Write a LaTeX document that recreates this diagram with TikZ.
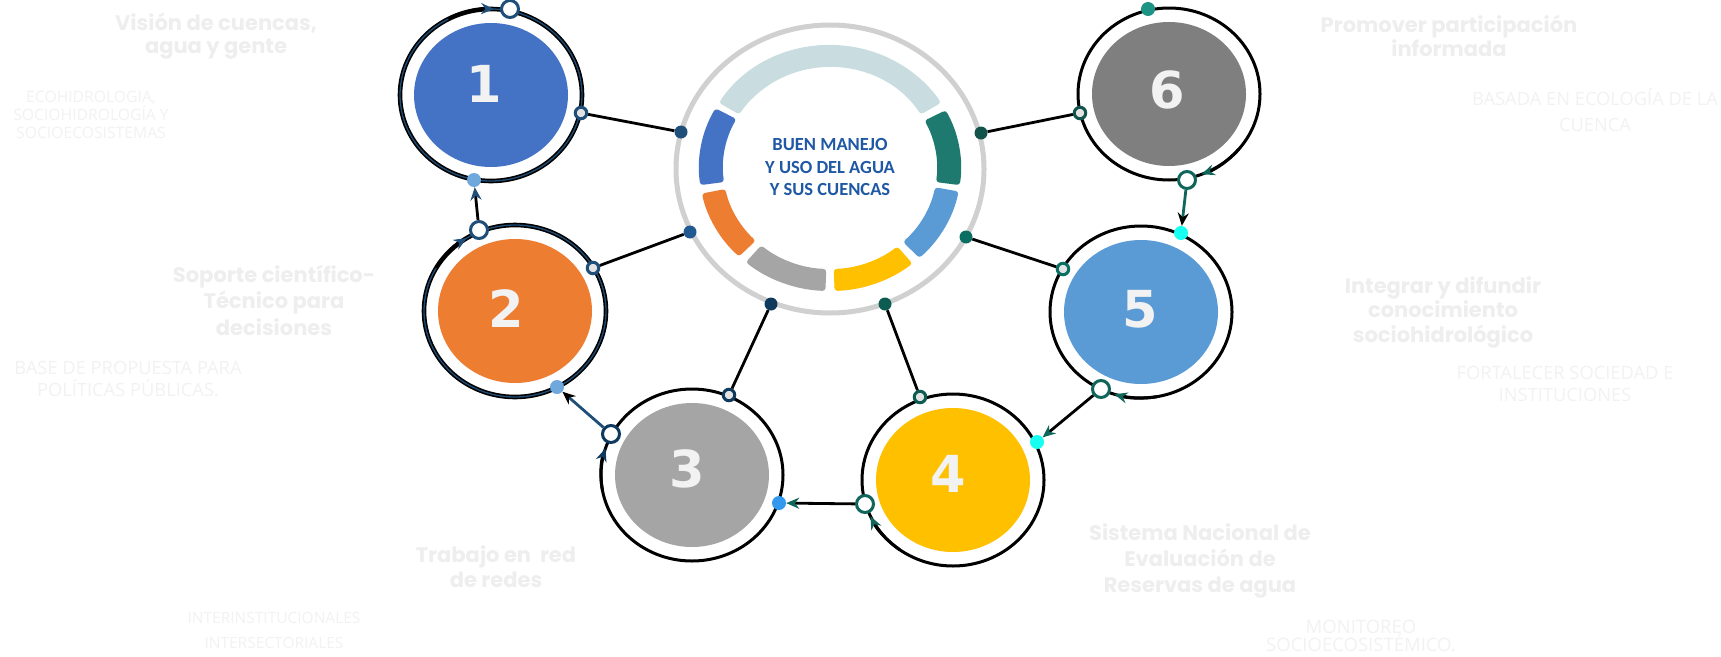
\documentclass[tikz,border=0pt]{standalone}
\usepackage{fontspec}
\usetikzlibrary{shapes.geometric,arrows.meta,calc}
\newfontfamily\popfont{Poppins}
\newfontfamily\osfont{Open Sans}
\newfontfamily\calfont{Carlito}
\newfontfamily\numfont{DejaVu Sans}
\definecolor{cone}{HTML}{4472C4}
\definecolor{ctwo}{HTML}{ED7D31}
\definecolor{cthree}{HTML}{A5A5A5}
\definecolor{cfour}{HTML}{FFC000}
\definecolor{cfive}{HTML}{5B9BD5}
\definecolor{csix}{HTML}{7F7F7F}
\definecolor{topseg}{HTML}{C9DDE1}
\definecolor{tealseg}{HTML}{1E7A6E}
\definecolor{ringgray}{HTML}{D0D0D0}
\definecolor{dkblue}{HTML}{1F4E79}
\definecolor{hubtwo}{HTML}{215A91}
\definecolor{navy}{HTML}{0F3A5E}
\definecolor{hubfour}{HTML}{0C5C52}
\definecolor{hubfive}{HTML}{0B6E63}
\definecolor{dkteal}{HTML}{12544B}
\definecolor{teal}{HTML}{11665C}
\definecolor{portfill}{HTML}{E3E3E3}
\definecolor{cyandot}{HTML}{17FFF0}
\definecolor{bluedot}{HTML}{3399EE}
\definecolor{lbdot}{HTML}{6FA8DC}
\definecolor{topdot}{HTML}{1C9384}
\definecolor{numw}{HTML}{F2F2F2}
\definecolor{headc}{HTML}{EEEEEE}
\definecolor{subc}{HTML}{F2F2F2}
\definecolor{midtext}{HTML}{1F58A5}
\begin{document}
\begin{tikzpicture}[x=1pt,y=-1pt,
  ringline/.style={line width=3pt, draw=black},
  core/.style={ellipse, inner sep=0pt, minimum width=154pt, minimum height=144pt},
  numlbl/.style={font=\numfont\bfseries\fontsize{51}{51}\selectfont, text=numw, inner sep=0pt},
  hub/.style={circle, fill=#1, minimum size=13pt, inner sep=0pt},
  port/.style={circle, fill=portfill, draw=#1, line width=3pt, minimum size=11.5pt, inner sep=0pt},
  opendot/.style={circle, fill=white, draw=#1, line width=3pt, minimum size=17pt, inner sep=0pt},
  sdot/.style={circle, fill=#1, minimum size=14pt, inner sep=0pt},
  link/.style={line width=2.8pt, draw=black},
  tipc/.style={-{Stealth[length=13pt,width=11pt,color=#1]}},
  head/.style={font=\popfont\bfseries\fontsize{21}{25.5}\selectfont, text=headc, align=center, inner sep=0pt},
  sub/.style={font=\osfont\fontsize{18.3}{22}\selectfont, text=subc, align=center, inner sep=0pt}
]
\useasboundingbox (0,0) rectangle (1721,656);
\fill[white] (0,0) rectangle (1721,656);

% centres
\coordinate (C1) at (491,95);
\coordinate (C2) at (515,311);
\coordinate (C3) at (692,475);
\coordinate (C4) at (953,480);
\coordinate (C5) at (1141,312);
\coordinate (C6) at (1169,94);
\coordinate (Z) at (830,168);

% rings
\draw[line width=4.6pt, black] (C1) ellipse[x radius=91, y radius=86];
\draw[line width=1.3pt, dkblue] (C1) ellipse[x radius=91, y radius=86];
\draw[line width=4.6pt, black] (C2) ellipse[x radius=91, y radius=86];
\draw[line width=1.3pt, dkblue] (C2) ellipse[x radius=91, y radius=86];
\draw[ringline] (C3) ellipse[x radius=91, y radius=86];
\draw[ringline] (C4) ellipse[x radius=91, y radius=86];
\draw[ringline] (C5) ellipse[x radius=91, y radius=86];
\draw[ringline] (C6) ellipse[x radius=91, y radius=86];

% cores
\node[core, fill=cone] (N1) at (C1) {};
\node[core, fill=ctwo] (N2) at (C2) {};
\node[core, fill=cthree] (N3) at (C3) {};
\node[core, fill=cfour] (N4) at (C4) {};
\node[core, fill=cfive] (N5) at (C5) {};
\node[core, fill=csix] (N6) at (C6) {};
\node[numlbl] (L1) at (484,84) {1};
\node[numlbl] (L2) at (506,309) {2};
\node[numlbl] (L3) at (687,469) {3};
\node[numlbl] (L4) at (948,474) {4};
\node[numlbl] (L5) at (1140,309) {5};
\node[numlbl] (L6) at (1167,90) {6};

% central hub
\draw[line width=5pt, ringgray] (830,169) ellipse[x radius=154, y radius=144];
\foreach \a/\b/\c in {-148/-32/topseg, -28/8/tealseg, 11/47/cfive, 51/88/cfour, 92/130/cthree, 134/168/ctwo, 172/209/cone}{
  \fill[\c, rounded corners=3pt] ($(Z)+(\a:131 and 123)$) arc[start angle=\a, end angle=\b, x radius=131, y radius=123]
     -- ($(Z)+(\b:107 and 101)$) arc[start angle=\b, end angle=\a, x radius=107, y radius=101] -- cycle;
}
\node[font=\calfont\bfseries\fontsize{18.5}{22.7}\selectfont, text=midtext, align=center] (mid) at (830,167)
  {BUEN MANEJO\\Y USO DEL AGUA\\Y SUS CUENCAS};

% hub dots
\node[hub=dkblue] (h1) at (681,132) {};
\node[hub=hubtwo] (h2) at (690,232) {};
\node[hub=navy] (h3) at (771,304) {};
\node[hub=hubfour] (h4) at (885,304) {};
\node[hub=hubfive] (h5) at (966,237) {};
\node[hub=dkteal] (h6) at (981,133) {};

% ports
\node[port=dkblue] (d1) at (581,113) {};
\node[port=dkblue] (d2) at (593,268) {};
\node[port=navy] (d3) at (729,395) {};
\node[port=hubfour] (d4) at (920,397) {};
\node[port=hubfive] (d5) at (1063,269) {};
\node[port=dkteal] (d6) at (1080,113) {};

\draw[link] (h1) -- (d1);
\draw[link] (h2) -- (d2);
\draw[link] (h3) -- (d3);
\draw[link] (h4) -- (d4);
\draw[link] (h5) -- (d5);
\draw[link] (h6) -- (d6);

% cycle dots
\node[opendot=dkblue] (o1) at (510,9) {};
\node[opendot=dkblue] (o2) at (479,230) {};
\node[opendot=navy] (o3) at (611,434) {};
\node[opendot=teal] (o4) at (865,504) {};
\node[opendot=teal] (o5) at (1101,389) {};
\node[opendot=teal] (o6) at (1187,180) {};
\node[sdot=lbdot] (e1) at (474,180) {};
\node[sdot=lbdot] (e2) at (557,387) {};
\node[sdot=bluedot] (e3) at (779,503) {};
\node[sdot=cyandot] (e4) at (1037,442) {};
\node[sdot=cyandot] (e5) at (1181,233) {};
\node[sdot=topdot] (e6) at (1148,9) {};

% ring arrows
\draw[line width=3pt, tipc=dkblue] ($(C1)+(-118:91 and 86)$) arc[start angle=-118, end angle=-88, x radius=91, y radius=86];
\draw[line width=3pt, tipc=dkblue] ($(C2)+(-150:91 and 86)$) arc[start angle=-150, end angle=-122, x radius=91, y radius=86];
\draw[line width=3pt, tipc=navy] ($(C3)+(170:91 and 86)$) arc[start angle=170, end angle=198, x radius=91, y radius=86];
\draw[line width=3pt, tipc=teal] ($(C4)+(126:91 and 86)$) arc[start angle=126, end angle=155, x radius=91, y radius=86];
\draw[line width=3pt, tipc=teal] ($(C5)+(80:91 and 86)$) arc[start angle=80, end angle=107, x radius=91, y radius=86];
\draw[line width=3pt, tipc=teal] ($(C6)+(40:91 and 86)$) arc[start angle=40, end angle=69, x radius=91, y radius=86];

% connectors between circles
\draw[line width=2.8pt, teal, tipc=black] (o6) -- (e5);
\draw[link, tipc=teal] (o5) -- (e4);
\draw[link, tipc=teal] (o4) -- (e3);
\draw[line width=2.8pt, dkblue, tipc=black] (o3) -- (e2);
\draw[link, tipc=dkblue] (o2) -- (e1);

% texts
\node[head, font=\popfont\bfseries\fontsize{21}{23.5}\selectfont] (t1) at (216,36) {Visión de cuencas,\\agua y gente};
\node[sub, font=\osfont\fontsize{15.7}{18}\selectfont] (s1) at (91,115) {ECOHIDROLOGIA,\\SOCIOHIDROLOGÍA Y\\SOCIOECOSISTEMAS};
\node[head, font=\popfont\bfseries\fontsize{21}{26.5}\selectfont] (t2) at (274,300) {Soporte científico-\\Técnico para\\decisiones};
\node[sub] (s2) at (128,379) {BASE DE PROPUESTA PARA\\POLÍTICAS PÚBLICAS.};
\node[head, font=\popfont\bfseries\fontsize{21}{25}\selectfont] (t3) at (496,567) {Trabajo en\ \ red\\de redes};
\node[sub, font=\osfont\fontsize{15.5}{25}\selectfont] (s3) at (274,630) {INTERINSTITUCIONALES\\INTERSECTORIALES};
\node[head, font=\popfont\bfseries\fontsize{21}{26}\selectfont] (t4) at (1200,561) {Sistema Nacional de\\Evaluación de\\Reservas de agua};
\node[sub, font=\osfont\fontsize{18.5}{18.5}\selectfont] (s4) at (1361,636) {MONITOREO\\SOCIOECOSISTÉMICO.};
\node[head, font=\popfont\bfseries\fontsize{21}{23.5}\selectfont] (t6) at (1449,36) {Promover participación\\informada};
\node[sub, font=\osfont\fontsize{18.3}{26}\selectfont] (s6) at (1595,110) {BASADA EN ECOLOGÍA DE LA\\CUENCA};
\node[head, font=\popfont\bfseries\fontsize{21}{24.5}\selectfont] (t5) at (1443,312) {Integrar y difundir\\conocimiento\\sociohidrológico};
\node[sub] (s5) at (1565,384) {FORTALECER SOCIEDAD E\\INSTITUCIONES};
\end{tikzpicture}
\end{document}
